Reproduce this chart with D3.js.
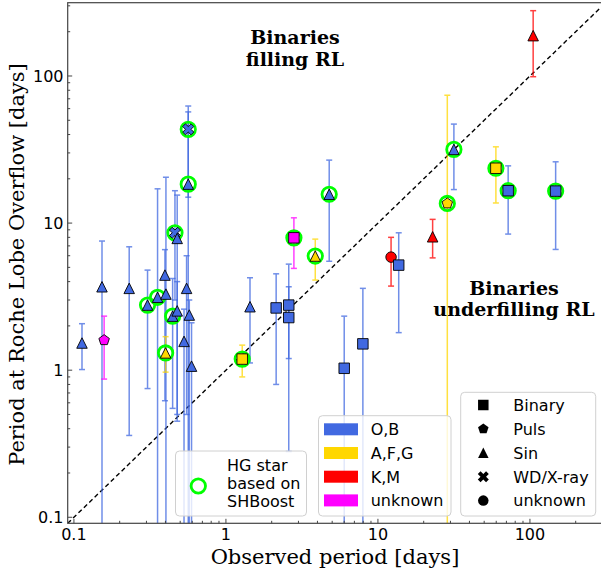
<!DOCTYPE html>
<html><head><meta charset="utf-8">
<script src="https://cdn.jsdelivr.net/npm/d3@7"></script>
<style>body{margin:0;background:#fff}svg{display:block}</style>
</head><body>
<svg id="c" width="601" height="574"></svg>
<script>
// ---- data ----
const observedPeriod = [0.113,0.153,0.158,0.231,0.305,0.355,0.397,0.403,0.401,0.446,0.462,0.478,0.478,0.53,0.551,0.565,0.565,0.574,0.594,1.28,1.44,2.14,2.59,2.59,2.80,3.87,4.78,6.0,7.96,12.2,13.7,22.9,28.6,31.6,59.7,71.9,147.6,105];
const rlofPeriod    = [1.53,3.69,1.6,3.6,2.77,3.13,4.43,3.29,1.31,2.33,8.59,7.87,2.53,1.57,3.6,43.4,18.4,2.37,1.065,1.19,2.70,2.65,2.77,2.28,7.94,5.97,15.7,1.03,1.51,5.87,5.18,8.07,13.6,31.7,23.6,16.6,16.5,188];
const rlofLow       = [1.01,0.05,0.87,0.36,0.75,0.05,0.62,0.05,0.97,0.55,3.0,0.5,0.45,0.05,0.5,15,0.05,0.05,0.05,0.90,1.12,0.80,1.2,0.28,4.92,4.1,5.5,0.05,0.05,3.73,1.80,5.8,0.05,16.9,13.7,8.42,6.62,98.9];
const rlofHigh      = [2.07,7.55,2.33,6.9,4.79,17.1,6.6,20.5,1.69,4.2,16.6,15.5,4.0,2.6,6.0,62.5,57,3.0,2.1,1.48,4.25,4.52,5.26,3.69,10.86,7.78,26.8,2.33,3.6,8.0,8.59,10.6,74,47.1,33.0,24.5,26.1,278];
const spectralType  = ["OB","OB","unk","OB","OB","OB","OB","OB","AFG","OB","OB","OB","OB","OB","OB","OB","OB","OB","OB","AFG","OB","OB","OB","OB","unk","AFG","OB","OB","OB","KM","OB","KM","AFG","OB","AFG","OB","OB","KM"];
const variability   = ["Sin","Sin","Puls","Sin","Sin","Sin","Sin","Sin","Sin","Sin","WD","Sin","Sin","Sin","Sin","WD","Sin","Sin","Sin","Binary","Sin","Binary","Binary","Binary","Binary","Sin","Sin","Binary","Binary","unk","Binary","Sin","Puls","Sin","Binary","Binary","Binary","Sin"];
const hgStar        = [0,0,0,0,1,1,0,0,1,1,1,0,0,0,0,1,1,0,0,1,0,0,0,0,1,1,1,0,0,0,0,0,1,1,1,1,1,0];

const colorKeys = ["OB","AFG","KM","unk"];
const colorLabels = ["O,B","A,F,G","K,M","unknown"];
const colorValues = ["#4169e1","#ffd700","#ff0000","#ff00ff"];
const shapeKeys = ["Binary","Puls","Sin","WD","unk"];
const shapeLabels = ["Binary","Puls","Sin","WD/X-ray","unknown"];
const xTicks = [0.1,1,10,100];
const yTicks = [0.1,1,10,100];
const xTickLabels = ["0.1","1","10","100"];
const yTickLabels = ["0.1","1","10","100"];

// ---- setup ----
const svg = d3.select("#c");
const L=67.7, R=600, T=2.7, B=523.3;
const x = d3.scaleLog().domain([0.091,289]).range([L,R]);
const y = d3.scaleLog().domain([0.091,315]).range([B,T]);
const col = d3.scaleOrdinal().domain(colorKeys).range(colorValues);

svg.append("defs").append("clipPath").attr("id","clip")
  .append("rect").attr("x",L).attr("y",T).attr("width",R-L).attr("height",B-T);

const ms = 10.5;
function shapePath(kind, s){
  const h=s/2;
  if(kind==="Binary") return `M${-h},${-h}H${h}V${h}H${-h}Z`;
  if(kind==="Sin") return `M0,${-h}L${h},${h}L${-h},${h}Z`;
  if(kind==="unk") return d3.symbol(d3.symbolCircle, Math.PI*h*h)();
  if(kind==="Puls"){
    const r=h*1.05; let p="";
    for(let i=0;i<5;i++){const a=-Math.PI/2+i*2*Math.PI/5; p+=(i?"L":"M")+(r*Math.cos(a)).toFixed(2)+","+(r*Math.sin(a)).toFixed(2);} return p+"Z";
  }
  if(kind==="WD"){
    const pts=[[0.25,0],[0.5,0.25],[0.75,0],[1,0.25],[0.75,0.5],[1,0.75],[0.75,1],[0.5,0.75],[0.25,1],[0,0.75],[0.25,0.5],[0,0.25]];
    return "M"+pts.map(p=>((p[0]-0.5)*s*1.05).toFixed(2)+","+((p[1]-0.5)*s*1.05).toFixed(2)).join("L")+"Z";
  }
}

const data = observedPeriod.map((p,i)=>({x:p,y:rlofPeriod[i],lo:rlofLow[i],hi:rlofHigh[i],c:spectralType[i],s:variability[i],hg:hgStar[i]}));

// ---- diagonal ----
svg.append("line").attr("x1",x(0.091)).attr("y1",y(0.091)).attr("x2",x(289)).attr("y2",y(289))
  .attr("clip-path","url(#clip)")
  .attr("stroke","#000").attr("stroke-width",1.4).attr("stroke-dasharray","4.5,3");

// ---- error bars ----
const eb = svg.append("g").attr("clip-path","url(#clip)");
data.forEach(d=>{
  const g = eb.append("g").attr("stroke",col(d.c)).attr("stroke-width",1.5).attr("opacity",0.75);
  const cx=x(d.x);
  g.append("line").attr("x1",cx).attr("x2",cx).attr("y1",y(Math.max(d.lo,0.05))).attr("y2",y(d.hi));
  [d.lo,d.hi].forEach(v=>{ if(v>0.091) g.append("line").attr("x1",cx-3).attr("x2",cx+3).attr("y1",y(v)).attr("y2",y(v)); });
});

// ---- HG circles ----
const pts = svg.append("g").attr("clip-path","url(#clip)");
data.filter(d=>d.hg).forEach(d=>{
  pts.append("circle").attr("cx",x(d.x)).attr("cy",y(d.y)).attr("r",7.2)
    .attr("fill","none").attr("stroke","#00ff00").attr("stroke-width",2.8);
});
// ---- markers ----
data.forEach(d=>{
  pts.append("path").attr("d",shapePath(d.s,ms)).attr("transform",`translate(${x(d.x)},${y(d.y)})`)
    .attr("fill",col(d.c)).attr("stroke","#000").attr("stroke-width",0.9);
});

// ---- axes frame ----
const ax = svg.append("g").attr("stroke","#444").attr("stroke-width",1.2).attr("fill","none");
ax.append("rect").attr("x",L).attr("y",T).attr("width",R-L+2).attr("height",B-T);
// ticks
function minors(dom){const out=[];for(let e=-2;e<=3;e++)for(let k=1;k<=9;k++){const v=k*Math.pow(10,e);if(v>=dom[0]&&v<=dom[1])out.push({v,major:k===1});}return out;}
minors(x.domain()).forEach(t=>{
  const len=t.major?4.5:2.5;
  ax.append("line").attr("x1",x(t.v)).attr("x2",x(t.v)).attr("y1",B).attr("y2",B-len).attr("stroke-width",1);
});
minors(y.domain()).forEach(t=>{
  const len=t.major?4.5:2.5;
  ax.append("line").attr("x1",L).attr("x2",L+len).attr("y1",y(t.v)).attr("y2",y(t.v)).attr("stroke-width",1);
});
const tf = "DejaVu Sans, sans-serif";
xTicks.forEach((v,i)=>svg.append("text").attr("x",x(v)).attr("y",540).attr("text-anchor","middle")
  .attr("font-family",tf).attr("font-size",16).text(xTickLabels[i]));
yTicks.forEach((v,i)=>svg.append("text").attr("x",63.5).attr("y",y(v)+5.8).attr("text-anchor","end")
  .attr("font-family",tf).attr("font-size",16).text(yTickLabels[i]));

// ---- axis labels ----
const sf = "DejaVu Serif, serif";
svg.append("text").attr("x",335).attr("y",564).attr("text-anchor","middle").attr("font-family",sf).attr("font-size",21)
  .text("Observed period [days]");
svg.append("text").attr("transform","translate(24,264.5) rotate(-90)").attr("text-anchor","middle").attr("font-family",sf).attr("font-size",21)
  .text("Period at Roche Lobe Overflow [days]");

// ---- annotations ----
function ann(cx, ys, lines){
  lines.forEach((t,i)=>svg.append("text").attr("x",cx).attr("y",ys[i]).attr("text-anchor","middle")
    .attr("font-family",sf).attr("font-weight","bold").attr("font-size",19).text(t));
}
ann(295,[44,66],["Binaries","filling RL"]);
ann(514,[295,316],["Binaries","underfilling RL"]);

// ---- legends ----
function frame(x0,y0,w,h){
  svg.append("rect").attr("x",x0).attr("y",y0).attr("width",w).attr("height",h).attr("rx",4)
    .attr("fill","#fff").attr("fill-opacity",0.8).attr("stroke","#d0d0d0").attr("stroke-width",1);
}
// HG legend
frame(175.5,451,131,65);
svg.append("circle").attr("cx",198.3).attr("cy",486).attr("r",7.2).attr("fill","none").attr("stroke","#00ff00").attr("stroke-width",2.8);
["HG star","based on","SHBoost"].forEach((t,i)=>svg.append("text").attr("x",227).attr("y",471+i*17.8)
  .attr("font-family",tf).attr("font-size",16).text(t));
// colour legend
frame(318.5,415.7,132.5,100.3);
colorKeys.forEach((k,i)=>{
  const cy=429.3+i*23.7;
  svg.append("rect").attr("x",324).attr("y",cy-6).attr("width",34).attr("height",12).attr("fill",col(k));
  svg.append("text").attr("x",370.7).attr("y",cy+5.8).attr("font-family",tf).attr("font-size",16).text(colorLabels[i]);
});
// shape legend
frame(460.7,392.3,135,123.7);
shapeKeys.forEach((k,i)=>{
  const cy=405+i*23.9;
  svg.append("path").attr("d",shapePath(k,ms)).attr("transform",`translate(483.3,${cy})`).attr("fill","#000");
  svg.append("text").attr("x",513.3).attr("y",cy+5.8).attr("font-family",tf).attr("font-size",16).text(shapeLabels[i]);
});
</script>
</body></html>
